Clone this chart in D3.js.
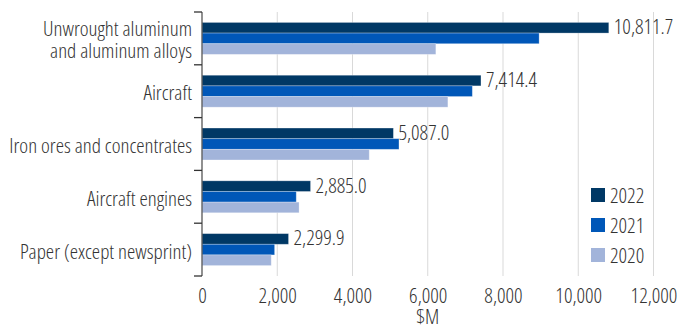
<!DOCTYPE html>
<html><head><meta charset="utf-8">
<script src="https://cdn.jsdelivr.net/npm/d3@7"></script>
<style>
html,body{margin:0;padding:0;background:#fff;}
svg text{font-family:"Open Sans",sans-serif;font-stretch:75%;font-weight:300;fill:#333;}
</style></head><body>
<svg id="chart" width="678" height="327"></svg>
<script>
const categories = [["Unwrought aluminum","and aluminum alloys"],["Aircraft"],["Iron ores and concentrates"],["Aircraft engines"],["Paper (except newsprint)"]];
const years = ["2022","2021","2020"];
const values2022 = [10811.7, 7414.4, 5087.0, 2885.0, 2299.9];
const values2021 = [8960, 7185, 5235, 2505, 1930];
const values2020 = [6215, 6535, 4445, 2580, 1840];
const xTicks = [0,2000,4000,6000,8000,10000,12000];
const colors = ["#003865","#0057b8","#a2b4da"];
const xLabel = "$M";

const FS = 21;
const series = [values2022, values2021, values2020];
const svg = d3.select("#chart");
const m = {left:202, top:12};
const x = d3.scaleLinear().domain([0,12000]).range([m.left, 653.5]);
const y = d3.scaleBand().domain(categories.map((d,i)=>i)).range([m.top, 276]).padding(0);
const yi = d3.scaleBand().domain(years).range([0, y.bandwidth()]).paddingInner(0).paddingOuter(0.98);

// grid
svg.append("g").selectAll("line").data(xTicks.filter(d=>d>0)).join("line")
  .attr("x1",d=>x(d)).attr("x2",d=>x(d)).attr("y1",m.top).attr("y2",276)
  .attr("stroke","#d9d9d9").attr("stroke-width",1);

// bars
const g = svg.append("g");
series.forEach((vals, s) => {
  g.append("g").selectAll("rect").data(vals).join("rect")
    .attr("x", x(0))
    .attr("y", (d,i)=>y(i)+yi(years[s]))
    .attr("width", d=>x(d)-x(0))
    .attr("height", yi.bandwidth())
    .attr("fill", colors[s])
    .attr("stroke","#ffffff").attr("stroke-opacity",0.35).attr("stroke-width",0.8);
});

// value labels for 2022
g.append("g").selectAll("text").data(values2022).join("text")
  .attr("x", d=>x(d)+5)
  .attr("y", (d,i)=>y(i)+yi("2022")+yi.bandwidth()/2 - 1.5)
  .attr("dominant-baseline","central")
  .attr("font-size",FS)
  .text(d=>d3.format(",.1f")(d));

// y axis
const ya = svg.append("g");
ya.append("line").attr("x1",x(0)).attr("x2",x(0)).attr("y1",m.top).attr("y2",276).attr("stroke","#555").attr("stroke-width",1.3);
const bounds = d3.range(categories.length+1).map(i=> m.top + i*y.step());
ya.selectAll("line.t").data(bounds).join("line").attr("class","t")
  .attr("x1",x(0)-8).attr("x2",x(0)).attr("y1",d=>d).attr("y2",d=>d).attr("stroke","#333").attr("stroke-width",1.3);
categories.forEach((lines,i)=>{
  const cy = y(i)+y.bandwidth()/2;
  lines.forEach((ln,j)=>{
    ya.append("text").attr("text-anchor","end").attr("font-size",FS)
      .attr("x", x(0)-10)
      .attr("y", cy + 1 + (j - (lines.length-1)/2)*22)
      .attr("dominant-baseline","central").text(ln);
  });
});

// x axis labels
const xa = d3.axisBottom(x).tickValues(xTicks).tickSize(0).tickFormat(d3.format(","));
const xg = svg.append("g").attr("transform",`translate(0,276)`).call(xa);
xg.select(".domain").remove();
xg.attr("font-family",null).attr("font-size",null);
xg.selectAll("text").attr("font-size",FS).attr("dy",null).attr("y",19).attr("dominant-baseline","central").attr("fill","#333");
svg.append("text").attr("x",x(6000)).attr("y",316).attr("text-anchor","middle").attr("font-size",FS).attr("dominant-baseline","central").text(xLabel);

// legend
const lg = svg.append("g");
years.forEach((yr,i)=>{
  lg.append("rect").attr("x",591).attr("y",188+i*30).attr("width",14).attr("height",14).attr("fill",colors[i]);
  lg.append("text").attr("x",610).attr("y",195+i*30).attr("dominant-baseline","central").attr("font-size",FS).text(yr);
});
</script>
</body></html>
